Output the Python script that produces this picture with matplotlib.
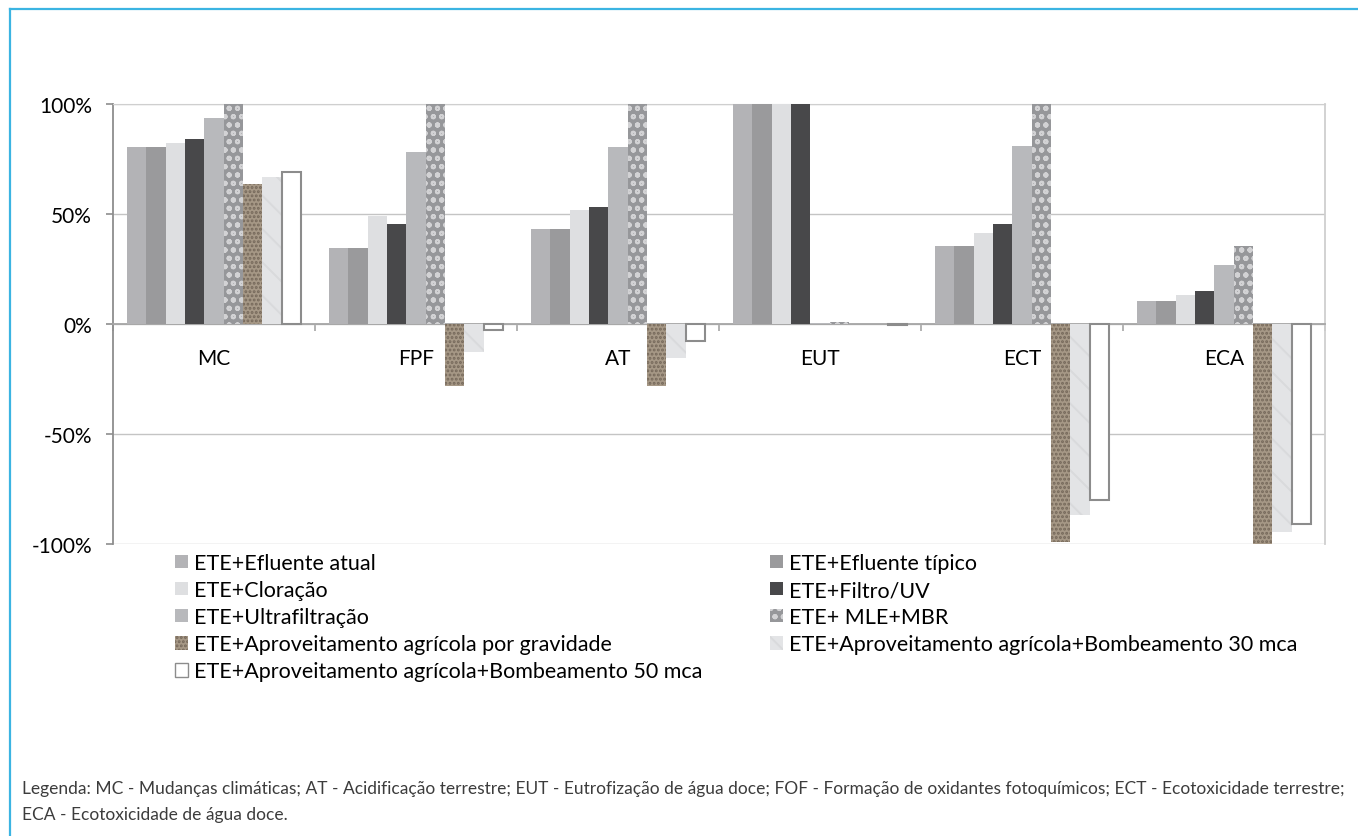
import matplotlib
matplotlib.use("Agg")
import numpy as np
import matplotlib.pyplot as plt
from matplotlib.patches import Patch
from matplotlib.lines import Line2D
from matplotlib.ticker import PercentFormatter

plt.rcParams["font.family"] = ["Lato", "DejaVu Sans"]
plt.rcParams["axes.unicode_minus"] = False
plt.rcParams["hatch.linewidth"] = 1.4

categories = ["MC", "FPF", "AT", "EUT", "ECT", "ECA"]

series_labels = [
    "ETE+Efluente atual",
    "ETE+Efluente típico",
    "ETE+Cloração",
    "ETE+Filtro/UV",
    "ETE+Ultrafiltração",
    "ETE+ MLE+MBR",
    "ETE+Aproveitamento agrícola por gravidade",
    "ETE+Aproveitamento agrícola+Bombeamento 30 mca",
    "ETE+Aproveitamento agrícola+Bombeamento 50 mca",
]

# values in % (relative impact)
efluente_atual = [80.5, 34.5, 43.0, 100.0, 35.5, 10.5]
efluente_tipico = [80.5, 34.5, 43.0, 100.0, 35.5, 10.5]
cloracao = [82.5, 49.0, 52.0, 100.0, 41.5, 13.0]
filtro_uv = [84.0, 45.5, 53.0, 100.0, 45.5, 15.0]
ultrafiltracao = [93.5, 78.0, 80.5, 0.5, 81.0, 27.0]
mle_mbr = [100.0, 100.0, 100.0, 1.0, 100.0, 35.5]
agric_gravidade = [63.5, -28.0, -28.0, 0.0, -99.0, -100.0]
agric_30mca = [67.0, -12.5, -15.5, 0.0, -87.0, -94.5]
agric_50mca = [69.0, -2.5, -7.5, -0.5, -80.0, -91.0]

series_values = [efluente_atual, efluente_tipico, cloracao, filtro_uv,
                 ultrafiltracao, mle_mbr, agric_gravidade, agric_30mca, agric_50mca]

# face colour, hatch, hatch colour, edge width
styles = [
    ("#B3B3B6", None, "#B3B3B6", 0),
    ("#9A9A9C", None, "#9A9A9C", 0),
    ("#DEDFE1", None, "#DEDFE1", 0),
    ("#48484A", None, "#48484A", 0),
    ("#B8B9BC", None, "#B8B9BC", 0),
    ("#96979A", "oo", "#D2D2D4", 0),
    ("#A69886", "....", "#75685A", 0),
    ("#E3E4E6", "\\", "#D9DADC", 0),
    ("#FFFFFF", None, "#8C8C8C", 1.5),
]

W, H = 1358, 837
fig = plt.figure(figsize=(W / 100, H / 100), dpi=100)
ax = fig.add_axes([113 / W, (H - 545) / H, (1325 - 113) / W, (545 - 105) / H])

x = np.arange(len(categories))
n = len(series_values)
width = 0.0955
for i, (vals, (face, hatch, hcol, lw)) in enumerate(zip(series_values, styles)):
    pos = x + (i - (n - 1) / 2) * width
    ax.bar(pos, np.array(vals) / 100, width, color=face, hatch=hatch,
           edgecolor=hcol, linewidth=lw, zorder=3)

ax.set_xlim(-0.5, len(categories) - 0.5)
ax.set_ylim(-1, 1)
ax.set_yticks([-1, -0.5, 0, 0.5, 1])
ax.yaxis.set_major_formatter(PercentFormatter(1.0, decimals=0))
ax.yaxis.grid(True, color="#C4C4C4", linewidth=1, zorder=0)
ax.set_axisbelow(True)

ax.spines["bottom"].set_position(("data", 0))
ax.spines["bottom"].set_color("#A6A6A6")
ax.spines["bottom"].set_linewidth(1.3)
ax.spines["left"].set_color("#8E8E8E")
ax.spines["left"].set_linewidth(1.3)
ax.spines["top"].set_color("#CFCFCF")
ax.spines["right"].set_color("#CFCFCF")
ax.spines["right"].set_linewidth(1.3)

ax.set_xticks(x, categories)
ax.set_xticks(np.arange(-0.5, len(categories), 1), minor=True)
ax.tick_params(axis="x", which="major", length=0, pad=17.5, labelsize=15)
ax.tick_params(axis="x", which="minor", length=5, direction="out", color="#A6A6A6", width=1.2)
ax.tick_params(axis="y", length=5, color="#8E8E8E", width=1.2, pad=10, labelsize=15)

# legend, filled row by row like the original
handles = [Patch(facecolor=f, hatch=h, edgecolor=c, linewidth=(1.0 if lw else 0))
           for f, h, c, lw in styles]
order = [0, 2, 4, 6, 8, 1, 3, 5, 7]
fig.legend([handles[k] for k in order], [series_labels[k] for k in order],
           loc="upper left", bbox_to_anchor=(175 / W, 1 - 554 / H), ncol=2,
           frameon=False, fontsize=15.5, handlelength=0.6, handleheight=0.6,
           handletextpad=0.3, columnspacing=3.12, labelspacing=0.33,
           borderpad=0, borderaxespad=0)

# blue frame
fig.add_artist(Line2D([10 / W, 1], [1 - 10 / H, 1 - 10 / H], color="#3BB4E2", linewidth=1.6))
fig.add_artist(Line2D([10 / W, 10 / W], [0, 1 - 10 / H], color="#3BB4E2", linewidth=1.6))

note1 = ("Legenda: MC - Mudanças climáticas; AT - Acidificação terrestre; EUT - Eutrofização de água doce; "
         "FOF - Formação de oxidantes fotoquímicos; ECT - Ecotoxicidade terrestre;")
note2 = "ECA - Ecotoxicidade de água doce."
fig.text(22 / W, 1 - 789 / H, note1, va="center", fontsize=12.5, color="#3C3C3C")
fig.text(22 / W, 1 - 815 / H, note2, va="center", fontsize=12.5, color="#3C3C3C")

fig.savefig("out.png", dpi=100)
